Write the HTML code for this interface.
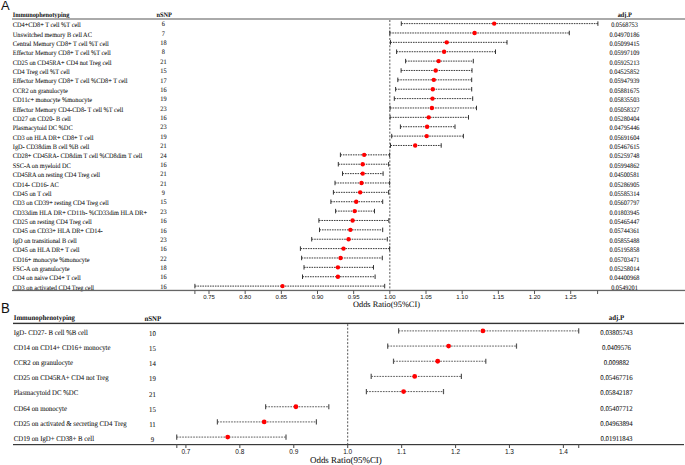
<!DOCTYPE html>
<html><head><meta charset="utf-8"><style>
html,body{margin:0;padding:0;background:#fff;}
body{width:685px;height:465px;overflow:hidden;}
svg{display:block;} .s,.b{text-rendering:geometricPrecision;}
.s{font-family:"Liberation Serif",serif;fill:#111;stroke:#111;stroke-width:0.06px;}
.b{font-family:"Liberation Serif",serif;font-weight:bold;fill:#111;}
.x{font-family:"Liberation Sans",sans-serif;fill:#111;}
</style></head><body>
<svg width="685" height="465" viewBox="0 0 685 465">
<rect width="685" height="465" fill="#fff"/>

<text class="x" transform="translate(0.9,10.1) scale(1.03,1)" font-size="12.6">A</text>
<text class="b" transform="translate(12.70,17.40) scale(1,1.1)" font-size="6.3">Immunophenotyping</text>
<text class="b" transform="translate(156.40,16.90) scale(1,1.1)" font-size="6.3">nSNP</text>
<text class="b" transform="translate(617.70,17.40) scale(1,1.1)" font-size="6.3">adj.P</text>
<rect x="12" y="18" width="673" height="2" fill="#aaa"/>
<line x1="389.84" y1="20" x2="389.84" y2="290.4" stroke="#444" stroke-width="0.9" stroke-dasharray="2,1.6"/>
<text class="s" transform="translate(12.80,27.20) scale(1,1.1)" font-size="6.3">CD4+CD8+ T cell %T cell</text>
<text class="s" transform="translate(163.40,26.30) scale(1,1.1)" font-size="6.3" text-anchor="middle">6</text>
<text class="s" transform="translate(624.50,27.20) scale(1,1.1)" font-size="6.3" text-anchor="middle">0.0568753</text>
<line x1="401.3" y1="23.60" x2="597.9" y2="23.60" stroke="#333" stroke-width="0.95" stroke-dasharray="1.6,0.9"/>
<line x1="401.3" y1="21.35" x2="401.3" y2="25.85" stroke="#333" stroke-width="1"/>
<line x1="597.9" y1="21.35" x2="597.9" y2="25.85" stroke="#333" stroke-width="1"/>
<circle cx="494.2" cy="23.60" r="2.2" fill="#f00"/>
<text class="s" transform="translate(12.80,36.58) scale(1,1.1)" font-size="6.3">Unswitched memory B cell AC</text>
<text class="s" transform="translate(163.40,35.68) scale(1,1.1)" font-size="6.3" text-anchor="middle">7</text>
<text class="s" transform="translate(624.50,36.58) scale(1,1.1)" font-size="6.3" text-anchor="middle">0.04970186</text>
<line x1="389.8" y1="32.98" x2="569.3" y2="32.98" stroke="#333" stroke-width="0.95" stroke-dasharray="1.6,0.9"/>
<line x1="389.8" y1="30.73" x2="389.8" y2="35.23" stroke="#333" stroke-width="1"/>
<line x1="569.3" y1="30.73" x2="569.3" y2="35.23" stroke="#333" stroke-width="1"/>
<circle cx="474.6" cy="32.98" r="2.2" fill="#f00"/>
<text class="s" transform="translate(12.80,45.95) scale(1,1.1)" font-size="6.3">Central Memory CD8+ T cell %T cell</text>
<text class="s" transform="translate(163.40,45.05) scale(1,1.1)" font-size="6.3" text-anchor="middle">18</text>
<text class="s" transform="translate(624.50,45.95) scale(1,1.1)" font-size="6.3" text-anchor="middle">0.05099415</text>
<line x1="390.5" y1="42.35" x2="507.0" y2="42.35" stroke="#333" stroke-width="0.95" stroke-dasharray="1.6,0.9"/>
<line x1="390.5" y1="40.10" x2="390.5" y2="44.60" stroke="#333" stroke-width="1"/>
<line x1="507.0" y1="40.10" x2="507.0" y2="44.60" stroke="#333" stroke-width="1"/>
<circle cx="446.7" cy="42.35" r="2.2" fill="#f00"/>
<text class="s" transform="translate(12.80,55.33) scale(1,1.1)" font-size="6.3">Effector Memory CD8+ T cell %T cell</text>
<text class="s" transform="translate(163.40,54.43) scale(1,1.1)" font-size="6.3" text-anchor="middle">8</text>
<text class="s" transform="translate(624.50,55.33) scale(1,1.1)" font-size="6.3" text-anchor="middle">0.05997109</text>
<line x1="396.6" y1="51.73" x2="495.5" y2="51.73" stroke="#333" stroke-width="0.95" stroke-dasharray="1.6,0.9"/>
<line x1="396.6" y1="49.48" x2="396.6" y2="53.98" stroke="#333" stroke-width="1"/>
<line x1="495.5" y1="49.48" x2="495.5" y2="53.98" stroke="#333" stroke-width="1"/>
<circle cx="444.1" cy="51.73" r="2.2" fill="#f00"/>
<text class="s" transform="translate(12.80,64.70) scale(1,1.1)" font-size="6.3">CD25 on CD45RA+ CD4 not Treg cell</text>
<text class="s" transform="translate(163.40,63.80) scale(1,1.1)" font-size="6.3" text-anchor="middle">21</text>
<text class="s" transform="translate(624.50,64.70) scale(1,1.1)" font-size="6.3" text-anchor="middle">0.05925213</text>
<line x1="405.6" y1="61.10" x2="473.3" y2="61.10" stroke="#333" stroke-width="0.95" stroke-dasharray="1.6,0.9"/>
<line x1="405.6" y1="58.85" x2="405.6" y2="63.35" stroke="#333" stroke-width="1"/>
<line x1="473.3" y1="58.85" x2="473.3" y2="63.35" stroke="#333" stroke-width="1"/>
<circle cx="438.6" cy="61.10" r="2.2" fill="#f00"/>
<text class="s" transform="translate(12.80,74.08) scale(1,1.1)" font-size="6.3">CD4 Treg cell %T cell</text>
<text class="s" transform="translate(163.40,73.17) scale(1,1.1)" font-size="6.3" text-anchor="middle">15</text>
<text class="s" transform="translate(624.50,74.08) scale(1,1.1)" font-size="6.3" text-anchor="middle">0.04525852</text>
<line x1="401.1" y1="70.47" x2="472.0" y2="70.47" stroke="#333" stroke-width="0.95" stroke-dasharray="1.6,0.9"/>
<line x1="401.1" y1="68.22" x2="401.1" y2="72.72" stroke="#333" stroke-width="1"/>
<line x1="472.0" y1="68.22" x2="472.0" y2="72.72" stroke="#333" stroke-width="1"/>
<circle cx="435.7" cy="70.47" r="2.2" fill="#f00"/>
<text class="s" transform="translate(12.80,83.45) scale(1,1.1)" font-size="6.3">Effector Memory CD8+ T cell %CD8+ T cell</text>
<text class="s" transform="translate(163.40,82.55) scale(1,1.1)" font-size="6.3" text-anchor="middle">17</text>
<text class="s" transform="translate(624.50,83.45) scale(1,1.1)" font-size="6.3" text-anchor="middle">0.05947939</text>
<line x1="397.8" y1="79.85" x2="471.7" y2="79.85" stroke="#333" stroke-width="0.95" stroke-dasharray="1.6,0.9"/>
<line x1="397.8" y1="77.60" x2="397.8" y2="82.10" stroke="#333" stroke-width="1"/>
<line x1="471.7" y1="77.60" x2="471.7" y2="82.10" stroke="#333" stroke-width="1"/>
<circle cx="433.8" cy="79.85" r="2.2" fill="#f00"/>
<text class="s" transform="translate(12.80,92.83) scale(1,1.1)" font-size="6.3">CCR2 on granulocyte</text>
<text class="s" transform="translate(163.40,91.92) scale(1,1.1)" font-size="6.3" text-anchor="middle">16</text>
<text class="s" transform="translate(624.50,92.83) scale(1,1.1)" font-size="6.3" text-anchor="middle">0.05881675</text>
<line x1="395.6" y1="89.22" x2="471.7" y2="89.22" stroke="#333" stroke-width="0.95" stroke-dasharray="1.6,0.9"/>
<line x1="395.6" y1="86.97" x2="395.6" y2="91.47" stroke="#333" stroke-width="1"/>
<line x1="471.7" y1="86.97" x2="471.7" y2="91.47" stroke="#333" stroke-width="1"/>
<circle cx="432.8" cy="89.22" r="2.2" fill="#f00"/>
<text class="s" transform="translate(12.80,102.20) scale(1,1.1)" font-size="6.3">CD11c+ monocyte %monocyte</text>
<text class="s" transform="translate(163.40,101.30) scale(1,1.1)" font-size="6.3" text-anchor="middle">19</text>
<text class="s" transform="translate(624.50,102.20) scale(1,1.1)" font-size="6.3" text-anchor="middle">0.05835503</text>
<line x1="394.3" y1="98.60" x2="472.7" y2="98.60" stroke="#333" stroke-width="0.95" stroke-dasharray="1.6,0.9"/>
<line x1="394.3" y1="96.35" x2="394.3" y2="100.85" stroke="#333" stroke-width="1"/>
<line x1="472.7" y1="96.35" x2="472.7" y2="100.85" stroke="#333" stroke-width="1"/>
<circle cx="432.5" cy="98.60" r="2.2" fill="#f00"/>
<text class="s" transform="translate(12.80,111.58) scale(1,1.1)" font-size="6.3">Effector Memory CD4-CD8- T cell %T cell</text>
<text class="s" transform="translate(163.40,110.67) scale(1,1.1)" font-size="6.3" text-anchor="middle">23</text>
<text class="s" transform="translate(624.50,111.58) scale(1,1.1)" font-size="6.3" text-anchor="middle">0.05058327</text>
<line x1="390.1" y1="107.97" x2="476.5" y2="107.97" stroke="#333" stroke-width="0.95" stroke-dasharray="1.6,0.9"/>
<line x1="390.1" y1="105.72" x2="390.1" y2="110.22" stroke="#333" stroke-width="1"/>
<line x1="476.5" y1="105.72" x2="476.5" y2="110.22" stroke="#333" stroke-width="1"/>
<circle cx="431.9" cy="107.97" r="2.2" fill="#f00"/>
<text class="s" transform="translate(12.80,120.95) scale(1,1.1)" font-size="6.3">CD27 on CD20- B cell</text>
<text class="s" transform="translate(163.40,120.05) scale(1,1.1)" font-size="6.3" text-anchor="middle">16</text>
<text class="s" transform="translate(624.50,120.95) scale(1,1.1)" font-size="6.3" text-anchor="middle">0.05280404</text>
<line x1="390.1" y1="117.35" x2="468.5" y2="117.35" stroke="#333" stroke-width="0.95" stroke-dasharray="1.6,0.9"/>
<line x1="390.1" y1="115.10" x2="390.1" y2="119.60" stroke="#333" stroke-width="1"/>
<line x1="468.5" y1="115.10" x2="468.5" y2="119.60" stroke="#333" stroke-width="1"/>
<circle cx="428.7" cy="117.35" r="2.2" fill="#f00"/>
<text class="s" transform="translate(12.80,130.32) scale(1,1.1)" font-size="6.3">Plasmacytoid DC %DC</text>
<text class="s" transform="translate(163.40,129.42) scale(1,1.1)" font-size="6.3" text-anchor="middle">23</text>
<text class="s" transform="translate(624.50,130.32) scale(1,1.1)" font-size="6.3" text-anchor="middle">0.04795446</text>
<line x1="400.4" y1="126.72" x2="455.0" y2="126.72" stroke="#333" stroke-width="0.95" stroke-dasharray="1.6,0.9"/>
<line x1="400.4" y1="124.47" x2="400.4" y2="128.97" stroke="#333" stroke-width="1"/>
<line x1="455.0" y1="124.47" x2="455.0" y2="128.97" stroke="#333" stroke-width="1"/>
<circle cx="427.1" cy="126.72" r="2.2" fill="#f00"/>
<text class="s" transform="translate(12.80,139.70) scale(1,1.1)" font-size="6.3">CD3 on HLA DR+ CD8+ T cell</text>
<text class="s" transform="translate(163.40,138.80) scale(1,1.1)" font-size="6.3" text-anchor="middle">19</text>
<text class="s" transform="translate(624.50,139.70) scale(1,1.1)" font-size="6.3" text-anchor="middle">0.05691604</text>
<line x1="391.7" y1="136.10" x2="463.4" y2="136.10" stroke="#333" stroke-width="0.95" stroke-dasharray="1.6,0.9"/>
<line x1="391.7" y1="133.85" x2="391.7" y2="138.35" stroke="#333" stroke-width="1"/>
<line x1="463.4" y1="133.85" x2="463.4" y2="138.35" stroke="#333" stroke-width="1"/>
<circle cx="426.7" cy="136.10" r="2.2" fill="#f00"/>
<text class="s" transform="translate(12.80,149.07) scale(1,1.1)" font-size="6.3">IgD- CD38dim B cell %B cell</text>
<text class="s" transform="translate(163.40,148.17) scale(1,1.1)" font-size="6.3" text-anchor="middle">21</text>
<text class="s" transform="translate(624.50,149.07) scale(1,1.1)" font-size="6.3" text-anchor="middle">0.05467615</text>
<line x1="390.5" y1="145.47" x2="441.2" y2="145.47" stroke="#333" stroke-width="0.95" stroke-dasharray="1.6,0.9"/>
<line x1="390.5" y1="143.22" x2="390.5" y2="147.72" stroke="#333" stroke-width="1"/>
<line x1="441.2" y1="143.22" x2="441.2" y2="147.72" stroke="#333" stroke-width="1"/>
<circle cx="415.2" cy="145.47" r="2.2" fill="#f00"/>
<text class="s" transform="translate(12.80,158.45) scale(1,1.1)" font-size="6.3">CD28+ CD45RA- CD8dim T cell %CD8dim T cell</text>
<text class="s" transform="translate(163.40,157.55) scale(1,1.1)" font-size="6.3" text-anchor="middle">24</text>
<text class="s" transform="translate(624.50,158.45) scale(1,1.1)" font-size="6.3" text-anchor="middle">0.05259748</text>
<line x1="340.4" y1="154.85" x2="389.6" y2="154.85" stroke="#333" stroke-width="0.95" stroke-dasharray="1.6,0.9"/>
<line x1="340.4" y1="152.60" x2="340.4" y2="157.10" stroke="#333" stroke-width="1"/>
<line x1="389.6" y1="152.60" x2="389.6" y2="157.10" stroke="#333" stroke-width="1"/>
<circle cx="364.2" cy="154.85" r="2.2" fill="#f00"/>
<text class="s" transform="translate(12.80,167.82) scale(1,1.1)" font-size="6.3">SSC-A on myeloid DC</text>
<text class="s" transform="translate(163.40,166.92) scale(1,1.1)" font-size="6.3" text-anchor="middle">16</text>
<text class="s" transform="translate(624.50,167.82) scale(1,1.1)" font-size="6.3" text-anchor="middle">0.05994862</text>
<line x1="338.3" y1="164.22" x2="388.6" y2="164.22" stroke="#333" stroke-width="0.95" stroke-dasharray="1.6,0.9"/>
<line x1="338.3" y1="161.97" x2="338.3" y2="166.47" stroke="#333" stroke-width="1"/>
<line x1="388.6" y1="161.97" x2="388.6" y2="166.47" stroke="#333" stroke-width="1"/>
<circle cx="362.7" cy="164.22" r="2.2" fill="#f00"/>
<text class="s" transform="translate(12.80,177.20) scale(1,1.1)" font-size="6.3">CD45RA on resting CD4 Treg cell</text>
<text class="s" transform="translate(163.40,176.30) scale(1,1.1)" font-size="6.3" text-anchor="middle">21</text>
<text class="s" transform="translate(624.50,177.20) scale(1,1.1)" font-size="6.3" text-anchor="middle">0.04500581</text>
<line x1="342.5" y1="173.60" x2="383.1" y2="173.60" stroke="#333" stroke-width="0.95" stroke-dasharray="1.6,0.9"/>
<line x1="342.5" y1="171.35" x2="342.5" y2="175.85" stroke="#333" stroke-width="1"/>
<line x1="383.1" y1="171.35" x2="383.1" y2="175.85" stroke="#333" stroke-width="1"/>
<circle cx="362.7" cy="173.60" r="2.2" fill="#f00"/>
<text class="s" transform="translate(12.80,186.57) scale(1,1.1)" font-size="6.3">CD14- CD16- AC</text>
<text class="s" transform="translate(163.40,185.67) scale(1,1.1)" font-size="6.3" text-anchor="middle">21</text>
<text class="s" transform="translate(624.50,186.57) scale(1,1.1)" font-size="6.3" text-anchor="middle">0.05286905</text>
<line x1="335.0" y1="182.97" x2="389.6" y2="182.97" stroke="#333" stroke-width="0.95" stroke-dasharray="1.6,0.9"/>
<line x1="335.0" y1="180.72" x2="335.0" y2="185.22" stroke="#333" stroke-width="1"/>
<line x1="389.6" y1="180.72" x2="389.6" y2="185.22" stroke="#333" stroke-width="1"/>
<circle cx="361.5" cy="182.97" r="2.2" fill="#f00"/>
<text class="s" transform="translate(12.80,195.95) scale(1,1.1)" font-size="6.3">CD45 on T cell</text>
<text class="s" transform="translate(163.40,195.05) scale(1,1.1)" font-size="6.3" text-anchor="middle">9</text>
<text class="s" transform="translate(624.50,195.95) scale(1,1.1)" font-size="6.3" text-anchor="middle">0.05585314</text>
<line x1="333.4" y1="192.35" x2="388.6" y2="192.35" stroke="#333" stroke-width="0.95" stroke-dasharray="1.6,0.9"/>
<line x1="333.4" y1="190.10" x2="333.4" y2="194.60" stroke="#333" stroke-width="1"/>
<line x1="388.6" y1="190.10" x2="388.6" y2="194.60" stroke="#333" stroke-width="1"/>
<circle cx="360.2" cy="192.35" r="2.2" fill="#f00"/>
<text class="s" transform="translate(12.80,205.32) scale(1,1.1)" font-size="6.3">CD3 on CD39+ resting CD4 Treg cell</text>
<text class="s" transform="translate(163.40,204.42) scale(1,1.1)" font-size="6.3" text-anchor="middle">15</text>
<text class="s" transform="translate(624.50,205.32) scale(1,1.1)" font-size="6.3" text-anchor="middle">0.05607797</text>
<line x1="330.9" y1="201.72" x2="382.7" y2="201.72" stroke="#333" stroke-width="0.95" stroke-dasharray="1.6,0.9"/>
<line x1="330.9" y1="199.47" x2="330.9" y2="203.97" stroke="#333" stroke-width="1"/>
<line x1="382.7" y1="199.47" x2="382.7" y2="203.97" stroke="#333" stroke-width="1"/>
<circle cx="356.2" cy="201.72" r="2.2" fill="#f00"/>
<text class="s" transform="translate(12.80,214.70) scale(1,1.1)" font-size="6.3">CD33dim HLA DR+ CD11b- %CD33dim HLA DR+</text>
<text class="s" transform="translate(163.40,213.80) scale(1,1.1)" font-size="6.3" text-anchor="middle">23</text>
<text class="s" transform="translate(624.50,214.70) scale(1,1.1)" font-size="6.3" text-anchor="middle">0.01803945</text>
<line x1="335.6" y1="211.10" x2="374.5" y2="211.10" stroke="#333" stroke-width="0.95" stroke-dasharray="1.6,0.9"/>
<line x1="335.6" y1="208.85" x2="335.6" y2="213.35" stroke="#333" stroke-width="1"/>
<line x1="374.5" y1="208.85" x2="374.5" y2="213.35" stroke="#333" stroke-width="1"/>
<circle cx="354.7" cy="211.10" r="2.2" fill="#f00"/>
<text class="s" transform="translate(12.80,224.07) scale(1,1.1)" font-size="6.3">CD25 on resting CD4 Treg cell</text>
<text class="s" transform="translate(163.40,223.17) scale(1,1.1)" font-size="6.3" text-anchor="middle">16</text>
<text class="s" transform="translate(624.50,224.07) scale(1,1.1)" font-size="6.3" text-anchor="middle">0.05465447</text>
<line x1="318.9" y1="220.47" x2="388.8" y2="220.47" stroke="#333" stroke-width="0.95" stroke-dasharray="1.6,0.9"/>
<line x1="318.9" y1="218.22" x2="318.9" y2="222.72" stroke="#333" stroke-width="1"/>
<line x1="388.8" y1="218.22" x2="388.8" y2="222.72" stroke="#333" stroke-width="1"/>
<circle cx="352.6" cy="220.47" r="2.2" fill="#f00"/>
<text class="s" transform="translate(12.80,233.45) scale(1,1.1)" font-size="6.3">CD45 on CD33+ HLA DR+ CD14-</text>
<text class="s" transform="translate(163.40,232.55) scale(1,1.1)" font-size="6.3" text-anchor="middle">16</text>
<text class="s" transform="translate(624.50,233.45) scale(1,1.1)" font-size="6.3" text-anchor="middle">0.05744361</text>
<line x1="319.5" y1="229.85" x2="382.7" y2="229.85" stroke="#333" stroke-width="0.95" stroke-dasharray="1.6,0.9"/>
<line x1="319.5" y1="227.60" x2="319.5" y2="232.10" stroke="#333" stroke-width="1"/>
<line x1="382.7" y1="227.60" x2="382.7" y2="232.10" stroke="#333" stroke-width="1"/>
<circle cx="350.4" cy="229.85" r="2.2" fill="#f00"/>
<text class="s" transform="translate(12.80,242.82) scale(1,1.1)" font-size="6.3">IgD on transitional B cell</text>
<text class="s" transform="translate(163.40,241.92) scale(1,1.1)" font-size="6.3" text-anchor="middle">23</text>
<text class="s" transform="translate(624.50,242.82) scale(1,1.1)" font-size="6.3" text-anchor="middle">0.05855488</text>
<line x1="311.7" y1="239.22" x2="387.3" y2="239.22" stroke="#333" stroke-width="0.95" stroke-dasharray="1.6,0.9"/>
<line x1="311.7" y1="236.97" x2="311.7" y2="241.47" stroke="#333" stroke-width="1"/>
<line x1="387.3" y1="236.97" x2="387.3" y2="241.47" stroke="#333" stroke-width="1"/>
<circle cx="348.6" cy="239.22" r="2.2" fill="#f00"/>
<text class="s" transform="translate(12.80,252.20) scale(1,1.1)" font-size="6.3">CD45 on HLA DR+ T cell</text>
<text class="s" transform="translate(163.40,251.30) scale(1,1.1)" font-size="6.3" text-anchor="middle">16</text>
<text class="s" transform="translate(624.50,252.20) scale(1,1.1)" font-size="6.3" text-anchor="middle">0.05195858</text>
<line x1="300.4" y1="248.60" x2="389.6" y2="248.60" stroke="#333" stroke-width="0.95" stroke-dasharray="1.6,0.9"/>
<line x1="300.4" y1="246.35" x2="300.4" y2="250.85" stroke="#333" stroke-width="1"/>
<line x1="389.6" y1="246.35" x2="389.6" y2="250.85" stroke="#333" stroke-width="1"/>
<circle cx="343.5" cy="248.60" r="2.2" fill="#f00"/>
<text class="s" transform="translate(12.80,261.57) scale(1,1.1)" font-size="6.3">CD16+ monocyte %monocyte</text>
<text class="s" transform="translate(163.40,260.68) scale(1,1.1)" font-size="6.3" text-anchor="middle">22</text>
<text class="s" transform="translate(624.50,261.57) scale(1,1.1)" font-size="6.3" text-anchor="middle">0.05703471</text>
<line x1="301.6" y1="257.98" x2="382.3" y2="257.98" stroke="#333" stroke-width="0.95" stroke-dasharray="1.6,0.9"/>
<line x1="301.6" y1="255.73" x2="301.6" y2="260.23" stroke="#333" stroke-width="1"/>
<line x1="382.3" y1="255.73" x2="382.3" y2="260.23" stroke="#333" stroke-width="1"/>
<circle cx="340.6" cy="257.98" r="2.2" fill="#f00"/>
<text class="s" transform="translate(12.80,270.95) scale(1,1.1)" font-size="6.3">FSC-A on granulocyte</text>
<text class="s" transform="translate(163.40,270.05) scale(1,1.1)" font-size="6.3" text-anchor="middle">18</text>
<text class="s" transform="translate(624.50,270.95) scale(1,1.1)" font-size="6.3" text-anchor="middle">0.05258014</text>
<line x1="304.0" y1="267.35" x2="373.5" y2="267.35" stroke="#333" stroke-width="0.95" stroke-dasharray="1.6,0.9"/>
<line x1="304.0" y1="265.10" x2="304.0" y2="269.60" stroke="#333" stroke-width="1"/>
<line x1="373.5" y1="265.10" x2="373.5" y2="269.60" stroke="#333" stroke-width="1"/>
<circle cx="337.9" cy="267.35" r="2.2" fill="#f00"/>
<text class="s" transform="translate(12.80,280.32) scale(1,1.1)" font-size="6.3">CD4 on naive CD4+ T cell</text>
<text class="s" transform="translate(163.40,279.43) scale(1,1.1)" font-size="6.3" text-anchor="middle">16</text>
<text class="s" transform="translate(624.50,280.32) scale(1,1.1)" font-size="6.3" text-anchor="middle">0.04400968</text>
<line x1="302.5" y1="276.73" x2="375.1" y2="276.73" stroke="#333" stroke-width="0.95" stroke-dasharray="1.6,0.9"/>
<line x1="302.5" y1="274.48" x2="302.5" y2="278.98" stroke="#333" stroke-width="1"/>
<line x1="375.1" y1="274.48" x2="375.1" y2="278.98" stroke="#333" stroke-width="1"/>
<circle cx="337.9" cy="276.73" r="2.2" fill="#f00"/>
<text class="s" transform="translate(12.80,289.70) scale(1,1.1)" font-size="6.3">CD3 on activated CD4 Treg cell</text>
<text class="s" transform="translate(163.40,288.80) scale(1,1.1)" font-size="6.3" text-anchor="middle">16</text>
<text class="s" transform="translate(624.50,289.70) scale(1,1.1)" font-size="6.3" text-anchor="middle">0.0549201</text>
<line x1="194.9" y1="286.10" x2="384.7" y2="286.10" stroke="#333" stroke-width="0.95" stroke-dasharray="1.6,0.9"/>
<line x1="194.9" y1="283.85" x2="194.9" y2="288.35" stroke="#333" stroke-width="1"/>
<line x1="384.7" y1="283.85" x2="384.7" y2="288.35" stroke="#333" stroke-width="1"/>
<circle cx="282.5" cy="286.10" r="2.2" fill="#f00"/>
<rect x="12" y="289.79999999999995" width="673" height="1.3" fill="#666"/>
<line x1="208.99" y1="290.4" x2="208.99" y2="294.0" stroke="#555" stroke-width="1.0"/>
<text class="x" x="208.99" y="299.2" font-size="6.0" text-anchor="middle">0.75</text>
<line x1="245.16" y1="290.4" x2="245.16" y2="294.0" stroke="#555" stroke-width="1.0"/>
<text class="x" x="245.16" y="299.2" font-size="6.0" text-anchor="middle">0.80</text>
<line x1="281.33" y1="290.4" x2="281.33" y2="294.0" stroke="#555" stroke-width="1.0"/>
<text class="x" x="281.33" y="299.2" font-size="6.0" text-anchor="middle">0.85</text>
<line x1="317.50" y1="290.4" x2="317.50" y2="294.0" stroke="#555" stroke-width="1.0"/>
<text class="x" x="317.50" y="299.2" font-size="6.0" text-anchor="middle">0.90</text>
<line x1="353.67" y1="290.4" x2="353.67" y2="294.0" stroke="#555" stroke-width="1.0"/>
<text class="x" x="353.67" y="299.2" font-size="6.0" text-anchor="middle">0.95</text>
<line x1="389.84" y1="290.4" x2="389.84" y2="294.0" stroke="#555" stroke-width="1.0"/>
<text class="x" x="389.84" y="299.2" font-size="6.0" text-anchor="middle">1.00</text>
<line x1="426.01" y1="290.4" x2="426.01" y2="294.0" stroke="#555" stroke-width="1.0"/>
<text class="x" x="426.01" y="299.2" font-size="6.0" text-anchor="middle">1.05</text>
<line x1="462.18" y1="290.4" x2="462.18" y2="294.0" stroke="#555" stroke-width="1.0"/>
<text class="x" x="462.18" y="299.2" font-size="6.0" text-anchor="middle">1.10</text>
<line x1="498.35" y1="290.4" x2="498.35" y2="294.0" stroke="#555" stroke-width="1.0"/>
<text class="x" x="498.35" y="299.2" font-size="6.0" text-anchor="middle">1.15</text>
<line x1="534.52" y1="290.4" x2="534.52" y2="294.0" stroke="#555" stroke-width="1.0"/>
<text class="x" x="534.52" y="299.2" font-size="6.0" text-anchor="middle">1.20</text>
<line x1="570.69" y1="290.4" x2="570.69" y2="294.0" stroke="#555" stroke-width="1.0"/>
<text class="x" x="570.69" y="299.2" font-size="6.0" text-anchor="middle">1.25</text>
<line x1="194.9" y1="290.4" x2="194.9" y2="294.0" stroke="#555" stroke-width="1.0"/>
<line x1="597.6" y1="290.4" x2="597.6" y2="294.0" stroke="#555" stroke-width="1.0"/>
<text class="s" x="386.5" y="306.6" font-size="8.35" text-anchor="middle">Odds Ratio(95%CI)</text>
<text class="x" transform="translate(1.1,312.8) scale(0.93,1)" font-size="14.2">B</text>
<text class="b" transform="translate(13.80,319.50) scale(1,1.08)" font-size="6.8">Immunophenotyping</text>
<text class="b" transform="translate(144.50,320.90) scale(1,1.08)" font-size="6.8">nSNP</text>
<text class="b" transform="translate(608.80,319.50) scale(1,1.08)" font-size="6.8">adj.P</text>
<rect x="13" y="322.7" width="671" height="1.4" fill="#333"/>
<line x1="347.69" y1="324.09999999999997" x2="347.69" y2="444.6" stroke="#444" stroke-width="0.9" stroke-dasharray="2,1.6"/>
<text class="s" transform="translate(13.70,334.70) scale(1,1.08)" font-size="6.8">IgD- CD27- B cell %B cell</text>
<text class="s" transform="translate(152.40,335.90) scale(1,1.08)" font-size="6.8" text-anchor="middle">10</text>
<text class="s" transform="translate(616.50,334.70) scale(1,1.08)" font-size="6.8" text-anchor="middle">0.03805743</text>
<line x1="398.6" y1="330.90" x2="578.7" y2="330.90" stroke="#555" stroke-width="0.95" stroke-dasharray="1.7,1.05"/>
<line x1="398.6" y1="328.30" x2="398.6" y2="333.50" stroke="#555" stroke-width="1.2"/>
<line x1="578.7" y1="328.30" x2="578.7" y2="333.50" stroke="#555" stroke-width="1.2"/>
<circle cx="482.9" cy="330.90" r="2.4" fill="#f00"/>
<text class="s" transform="translate(13.70,349.87) scale(1,1.08)" font-size="6.8">CD14 on CD14+ CD16+ monocyte</text>
<text class="s" transform="translate(152.40,351.07) scale(1,1.08)" font-size="6.8" text-anchor="middle">15</text>
<text class="s" transform="translate(616.50,349.87) scale(1,1.08)" font-size="6.8" text-anchor="middle">0.0409576</text>
<line x1="387.7" y1="346.07" x2="516.5" y2="346.07" stroke="#555" stroke-width="0.95" stroke-dasharray="1.7,1.05"/>
<line x1="387.7" y1="343.47" x2="387.7" y2="348.67" stroke="#555" stroke-width="1.2"/>
<line x1="516.5" y1="343.47" x2="516.5" y2="348.67" stroke="#555" stroke-width="1.2"/>
<circle cx="448.6" cy="346.07" r="2.4" fill="#f00"/>
<text class="s" transform="translate(13.70,365.04) scale(1,1.08)" font-size="6.8">CCR2 on granulocyte</text>
<text class="s" transform="translate(152.40,366.24) scale(1,1.08)" font-size="6.8" text-anchor="middle">14</text>
<text class="s" transform="translate(616.50,365.04) scale(1,1.08)" font-size="6.8" text-anchor="middle">0.009882</text>
<line x1="393.5" y1="361.24" x2="485.8" y2="361.24" stroke="#555" stroke-width="0.95" stroke-dasharray="1.7,1.05"/>
<line x1="393.5" y1="358.64" x2="393.5" y2="363.84" stroke="#555" stroke-width="1.2"/>
<line x1="485.8" y1="358.64" x2="485.8" y2="363.84" stroke="#555" stroke-width="1.2"/>
<circle cx="437.7" cy="361.24" r="2.4" fill="#f00"/>
<text class="s" transform="translate(13.70,380.21) scale(1,1.08)" font-size="6.8">CD25 on CD45RA+ CD4 not Treg</text>
<text class="s" transform="translate(152.40,381.41) scale(1,1.08)" font-size="6.8" text-anchor="middle">19</text>
<text class="s" transform="translate(616.50,380.21) scale(1,1.08)" font-size="6.8" text-anchor="middle">0.05467716</text>
<line x1="371.2" y1="376.41" x2="461.4" y2="376.41" stroke="#555" stroke-width="0.95" stroke-dasharray="1.7,1.05"/>
<line x1="371.2" y1="373.81" x2="371.2" y2="379.01" stroke="#555" stroke-width="1.2"/>
<line x1="461.4" y1="373.81" x2="461.4" y2="379.01" stroke="#555" stroke-width="1.2"/>
<circle cx="414.7" cy="376.41" r="2.4" fill="#f00"/>
<text class="s" transform="translate(13.70,395.38) scale(1,1.08)" font-size="6.8">Plasmacytoid DC %DC</text>
<text class="s" transform="translate(152.40,396.58) scale(1,1.08)" font-size="6.8" text-anchor="middle">21</text>
<text class="s" transform="translate(616.50,395.38) scale(1,1.08)" font-size="6.8" text-anchor="middle">0.05842187</text>
<line x1="366.4" y1="391.58" x2="443.5" y2="391.58" stroke="#555" stroke-width="0.95" stroke-dasharray="1.7,1.05"/>
<line x1="366.4" y1="388.98" x2="366.4" y2="394.18" stroke="#555" stroke-width="1.2"/>
<line x1="443.5" y1="388.98" x2="443.5" y2="394.18" stroke="#555" stroke-width="1.2"/>
<circle cx="403.6" cy="391.58" r="2.4" fill="#f00"/>
<text class="s" transform="translate(13.70,410.55) scale(1,1.08)" font-size="6.8">CD64 on monocyte</text>
<text class="s" transform="translate(152.40,411.75) scale(1,1.08)" font-size="6.8" text-anchor="middle">15</text>
<text class="s" transform="translate(616.50,410.55) scale(1,1.08)" font-size="6.8" text-anchor="middle">0.05407712</text>
<line x1="265.6" y1="406.75" x2="328.8" y2="406.75" stroke="#555" stroke-width="0.95" stroke-dasharray="1.7,1.05"/>
<line x1="265.6" y1="404.15" x2="265.6" y2="409.35" stroke="#555" stroke-width="1.2"/>
<line x1="328.8" y1="404.15" x2="328.8" y2="409.35" stroke="#555" stroke-width="1.2"/>
<circle cx="295.9" cy="406.75" r="2.4" fill="#f00"/>
<text class="s" transform="translate(13.70,425.72) scale(1,1.08)" font-size="6.8">CD25 on activated &amp; secreting CD4 Treg</text>
<text class="s" transform="translate(152.40,426.92) scale(1,1.08)" font-size="6.8" text-anchor="middle">11</text>
<text class="s" transform="translate(616.50,425.72) scale(1,1.08)" font-size="6.8" text-anchor="middle">0.04963894</text>
<line x1="217.4" y1="421.92" x2="316.4" y2="421.92" stroke="#555" stroke-width="0.95" stroke-dasharray="1.7,1.05"/>
<line x1="217.4" y1="419.32" x2="217.4" y2="424.52" stroke="#555" stroke-width="1.2"/>
<line x1="316.4" y1="419.32" x2="316.4" y2="424.52" stroke="#555" stroke-width="1.2"/>
<circle cx="264.2" cy="421.92" r="2.4" fill="#f00"/>
<text class="s" transform="translate(13.70,440.89) scale(1,1.08)" font-size="6.8">CD19 on IgD+ CD38+ B cell</text>
<text class="s" transform="translate(152.40,442.09) scale(1,1.08)" font-size="6.8" text-anchor="middle">9</text>
<text class="s" transform="translate(616.50,440.89) scale(1,1.08)" font-size="6.8" text-anchor="middle">0.01911843</text>
<line x1="176.7" y1="437.09" x2="286.0" y2="437.09" stroke="#555" stroke-width="0.95" stroke-dasharray="1.7,1.05"/>
<line x1="176.7" y1="434.49" x2="176.7" y2="439.69" stroke="#555" stroke-width="1.2"/>
<line x1="286.0" y1="434.49" x2="286.0" y2="439.69" stroke="#555" stroke-width="1.2"/>
<circle cx="227.7" cy="437.09" r="2.4" fill="#f00"/>
<rect x="13" y="444.0" width="671" height="1.2" fill="#3a3a3a"/>
<line x1="185.90" y1="444.6" x2="185.90" y2="448.0" stroke="#555" stroke-width="1.1"/>
<text class="x" x="185.90" y="453.9" font-size="6.5" text-anchor="middle">0.7</text>
<line x1="239.83" y1="444.6" x2="239.83" y2="448.0" stroke="#555" stroke-width="1.1"/>
<text class="x" x="239.83" y="453.9" font-size="6.5" text-anchor="middle">0.8</text>
<line x1="293.76" y1="444.6" x2="293.76" y2="448.0" stroke="#555" stroke-width="1.1"/>
<text class="x" x="293.76" y="453.9" font-size="6.5" text-anchor="middle">0.9</text>
<line x1="347.69" y1="444.6" x2="347.69" y2="448.0" stroke="#555" stroke-width="1.1"/>
<text class="x" x="347.69" y="453.9" font-size="6.5" text-anchor="middle">1.0</text>
<line x1="401.62" y1="444.6" x2="401.62" y2="448.0" stroke="#555" stroke-width="1.1"/>
<text class="x" x="401.62" y="453.9" font-size="6.5" text-anchor="middle">1.1</text>
<line x1="455.55" y1="444.6" x2="455.55" y2="448.0" stroke="#555" stroke-width="1.1"/>
<text class="x" x="455.55" y="453.9" font-size="6.5" text-anchor="middle">1.2</text>
<line x1="509.48" y1="444.6" x2="509.48" y2="448.0" stroke="#555" stroke-width="1.1"/>
<text class="x" x="509.48" y="453.9" font-size="6.5" text-anchor="middle">1.3</text>
<line x1="563.41" y1="444.6" x2="563.41" y2="448.0" stroke="#555" stroke-width="1.1"/>
<text class="x" x="563.41" y="453.9" font-size="6.5" text-anchor="middle">1.4</text>
<line x1="176.8" y1="444.6" x2="176.8" y2="448.0" stroke="#555" stroke-width="1.1"/>
<line x1="578.7" y1="444.6" x2="578.7" y2="448.0" stroke="#555" stroke-width="1.1"/>
<text class="s" x="345.9" y="462.6" font-size="8.96" text-anchor="middle">Odds Ratio(95%CI)</text>
</svg></body></html>
